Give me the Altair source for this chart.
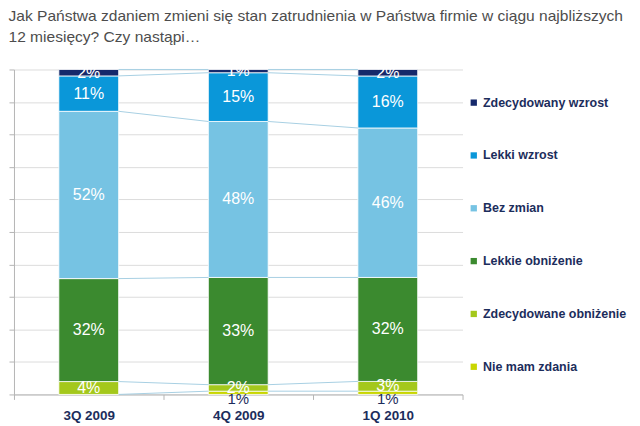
import altair as alt
import pandas as pd

categories = ["3Q 2009", "4Q 2009", "1Q 2010"]
series = ["Zdecydowany wzrost", "Lekki wzrost", "Bez zmian",
          "Lekkie obniżenie", "Zdecydowane obniżenie", "Nie mam zdania"]
colors = ["#15296b", "#0a97d9", "#76c3e3", "#3b8a2f", "#a4c81c", "#c9d600"]

zdecydowany_wzrost = [2, 1, 2]
lekki_wzrost = [11, 15, 16]
bez_zmian = [52, 48, 46]
lekkie_obnizenie = [32, 33, 32]
zdecydowane_obnizenie = [4, 2, 3]
nie_mam_zdania = [0, 1, 1]

title_lines = ["Jak Państwa zdaniem zmieni się stan zatrudnienia w Państwa firmie w ciągu najbliższych",
               "12 miesięcy? Czy nastąpi…"]

navy = "#1c2d5c"
series_values = dict(zip(series, [zdecydowany_wzrost, lekki_wzrost, bez_zmian,
                                  lekkie_obnizenie, zdecydowane_obnizenie, nie_mam_zdania]))

rows = []
tops = {}
for ci, cat in enumerate(categories):
    total = sum(series_values[s][ci] for s in series)
    cum = 0
    for s in reversed(series):
        v = series_values[s][ci]
        y0 = cum / total * 100
        cum += v
        y1 = cum / total * 100
        tops[(ci, s)] = y1
        rows.append({"cat": cat, "series": s, "v": v, "y0": y0, "y1": y1,
                     "mid": (y0 + y1) / 2, "label": f"{v}%",
                     "small": s == "Nie mam zdania"})
df = pd.DataFrame(rows)

lines = []
for ci in range(len(categories) - 1):
    for s in series:
        lines.append({"cat": categories[ci], "next": categories[ci + 1],
                      "ya": tops[(ci, s)], "yb": tops[(ci + 1, s)]})
ldf = pd.DataFrame(lines)

FONT = "Liberation Sans"

xscale = alt.Scale(domain=categories, paddingInner=0, paddingOuter=0)
yscale = alt.Scale(domain=[0, 100], nice=False)

x_axis = alt.Axis(title=None, labelAngle=0, labelFont=FONT, labelFontSize=13.5,
                  labelFontWeight="bold", labelColor=navy, tickBand="extent",
                  tickSize=5, tickColor="#b5b5b5", domainColor="#b5b5b5",
                  labelPadding=9, grid=False)

y_axis = alt.Axis(values=list(range(0, 101, 10)), labels=False, title=None, tickSize=5,
                  grid=True, gridColor="#dcdcdc", domainColor="#b5b5b5", tickColor="#b5b5b5",
                  tickRound=True)

X = alt.X("cat:N", sort=categories, scale=xscale, axis=x_axis)

bars = alt.Chart(df).mark_bar(width={"band": 0.4}, stroke="white", strokeWidth=0.8).encode(
    x=X,
    y=alt.Y("y1:Q", scale=yscale, axis=y_axis),
    y2="y0:Q",
    color=alt.Color("series:N", scale=alt.Scale(domain=series, range=colors),
                    legend=alt.Legend(title=None, orient="none", legendX=455, legendY=27,
                                      direction="vertical", rowPadding=40,
                                      symbolType="square", symbolSize=40,
                                      symbolStrokeWidth=0,
                                      labelFont=FONT, labelFontSize=12.5,
                                      labelFontWeight="bold", labelColor=navy,
                                      labelOffset=3)),
)

series_lines = alt.Chart(ldf).mark_rule(color="#a8d0e3", strokeWidth=1).encode(
    x=alt.X("cat:N", sort=categories, scale=xscale, bandPosition=0.7, axis=x_axis),
    x2=alt.X2("next:N", bandPosition=0.3),
    y=alt.Y("ya:Q", scale=yscale, axis=y_axis),
    y2="yb:Q",
)

labels = alt.Chart(df).transform_filter("datum.v > 0 && !datum.small").mark_text(
    font=FONT, fontSize=16, color="white").encode(
    x=X,
    y=alt.Y("mid:Q", scale=yscale, axis=y_axis),
    text="label:N",
)

small_labels = alt.Chart(df).transform_filter("datum.v > 0 && datum.small").mark_text(
    font=FONT, fontSize=15, color=navy, dy=6).encode(
    x=X,
    y=alt.Y("mid:Q", scale=yscale, axis=y_axis),
    text="label:N",
)

chart = alt.layer(bars, series_lines, small_labels, labels).properties(
    width=450, height=326,
    background="white",
    padding={"left": 0, "top": 0, "right": 5, "bottom": 5},
    title=alt.TitleParams(text=title_lines, anchor="start", frame="bounds", font=FONT,
                          fontSize=15.6, fontWeight="normal", color="#4d4d4d",
                          lineHeight=21, offset=18),
).configure_view(stroke=None)

chart.save("out.html", embed_options={"renderer": "svg", "actions": False})
